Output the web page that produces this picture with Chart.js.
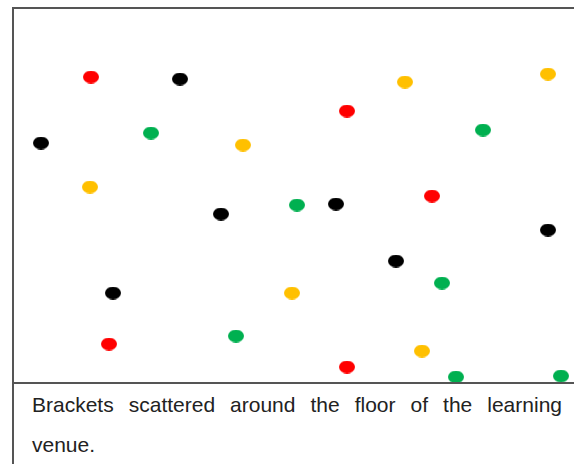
<!DOCTYPE html>
<html lang="en">
<head>
<meta charset="UTF-8">
<title>Brackets on the floor</title>
<script src="https://cdn.jsdelivr.net/npm/chart.js@4.4.1/dist/chart.umd.min.js"></script>
<style>
    html, body { margin: 0; padding: 0; background: #fff; }
    body { width: 574px; height: 464px; overflow: hidden; position: relative; }
    #frame {
        position: absolute; left: 12px; top: 7px; width: 620px; height: 470px;
        border-left: 2px solid #555; border-top: 2px solid #555;
    }
    #plot { width: 620px; height: 373px; border-bottom: 2px solid #555; }
    #chart-box { width: 560px; height: 373px; position: relative; }
    #caption {
        position: absolute; left: 32px; top: 385px; width: 530px; margin: 0;
        font-family: "Liberation Sans", Arial, sans-serif; font-size: 21px;
        line-height: 40px; text-align: justify; color: #222;
    }
</style>
</head>
<body>
<div id="frame">
    <div id="plot">
        <div id="chart-box"><canvas id="floor-chart"></canvas></div>
    </div>
</div>
<p id="caption">Brackets scattered around the floor of the learning venue.</p>
<script>
// bracket positions on the floor (x from left edge, y from bottom edge)
const redX = [77, 333, 418, 95, 333];
const redY = [305, 271, 186, 38, 15];
const blackX = [166, 27, 207, 99, 322, 534, 382];
const blackY = [303, 239, 168, 89, 178, 152, 121];
const greenX = [137, 469, 283, 222, 428, 442, 547];
const greenY = [249, 252, 177, 46, 99, 5, 6];
const yellowX = [76, 229, 391, 534, 278, 408];
const yellowY = [195, 237, 300, 308, 89, 31];

const floorWidth = 560;
const floorHeight = 373;

document.addEventListener('DOMContentLoaded', () => {
    const ctx = document.getElementById('floor-chart').getContext('2d');

    // the dots are slightly flattened, so draw them as little ellipse images
    function makeDot(color) {
        const c = document.createElement('canvas');
        c.width = 16;
        c.height = 13;
        const g = c.getContext('2d');
        g.fillStyle = color;
        g.beginPath();
        g.ellipse(8, 6.5, 8, 6.5, 0, 0, Math.PI * 2);
        g.fill();
        return c;
    }

    function toPoints(xs, ys) {
        return xs.map((x, i) => ({ x: x, y: ys[i] }));
    }

    function makeSet(label, xs, ys, color) {
        return {
            label: label,
            data: toPoints(xs, ys),
            pointStyle: makeDot(color),
            backgroundColor: color,
            borderColor: color,
            clip: false
        };
    }

    new Chart(ctx, {
        type: 'scatter',
        data: {
            datasets: [
                makeSet('Red', redX, redY, '#ff0000'),
                makeSet('Black', blackX, blackY, '#000000'),
                makeSet('Green', greenX, greenY, '#00b050'),
                makeSet('Yellow', yellowX, yellowY, '#ffc000')
            ]
        },
        options: {
            responsive: true,
            maintainAspectRatio: false,
            animation: false,
            layout: { padding: 0, autoPadding: false },
            plugins: {
                legend: { display: false },
                tooltip: { enabled: false }
            },
            scales: {
                x: { type: 'linear', min: 0, max: floorWidth, display: false },
                y: { type: 'linear', min: 0, max: floorHeight, display: false }
            }
        }
    });
});
</script>
</body>
</html>
